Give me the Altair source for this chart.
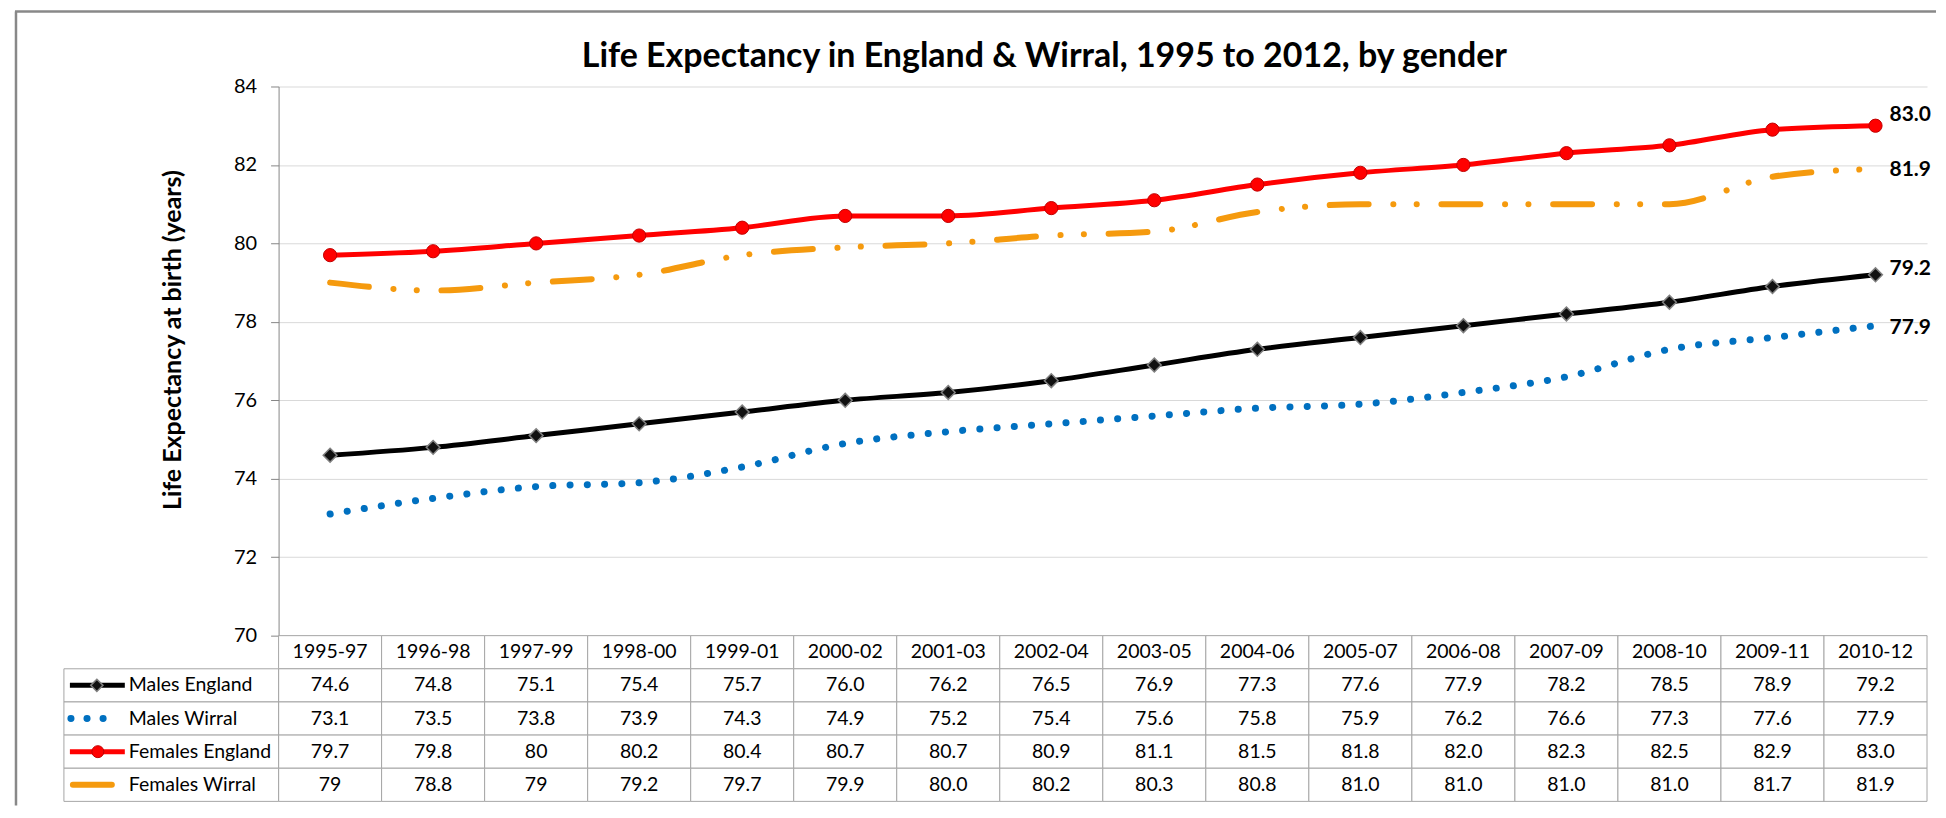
import altair as alt
import pandas as pd

# ---------------- data ----------------
periods = ["1995-97", "1996-98", "1997-99", "1998-00", "1999-01", "2000-02", "2001-03", "2002-04",
           "2003-05", "2004-06", "2005-07", "2006-08", "2007-09", "2008-10", "2009-11", "2010-12"]
series_names = ["Males England", "Males Wirral", "Females England", "Females Wirral"]
males_england = ["74.6", "74.8", "75.1", "75.4", "75.7", "76.0", "76.2", "76.5",
                 "76.9", "77.3", "77.6", "77.9", "78.2", "78.5", "78.9", "79.2"]
males_wirral = ["73.1", "73.5", "73.8", "73.9", "74.3", "74.9", "75.2", "75.4",
                "75.6", "75.8", "75.9", "76.2", "76.6", "77.3", "77.6", "77.9"]
females_england = ["79.7", "79.8", "80", "80.2", "80.4", "80.7", "80.7", "80.9",
                   "81.1", "81.5", "81.8", "82.0", "82.3", "82.5", "82.9", "83.0"]
females_wirral = ["79", "78.8", "79", "79.2", "79.7", "79.9", "80.0", "80.2",
                  "80.3", "80.8", "81.0", "81.0", "81.0", "81.0", "81.7", "81.9"]
y_ticks = [70, 72, 74, 76, 78, 80, 82, 84]
chart_title = "Life Expectancy in England & Wirral, 1995 to 2012, by gender"
y_title = "Life Expectancy at birth (years)"
header_key = "Period"

all_values = [males_england, males_wirral, females_england, females_wirral]

records = []
for name, vals in zip(series_names, all_values):
    for p, v in zip(periods, vals):
        records.append({"period": p, "series": name, "label": v, "value": float(v)})
df = pd.DataFrame(records)

cells = [{"period": p, "row": header_key, "label": p} for p in periods]
cells += [{"period": r["period"], "row": r["series"], "label": r["label"]} for r in records]
cells_df = pd.DataFrame(cells)
rows_df = pd.DataFrame({"row": series_names})
one = pd.DataFrame({"t": [chart_title], "yt": [y_title]})

# ---------------- geometry / style ----------------
W = 1651
PLOT_H = 550
H = 716
FONT = "Lato"
ROWS = [header_key] + series_names

X_POINT = alt.Scale(type="point", domain=periods, range=[0, W], padding=0.5)
X_BAND = alt.Scale(type="band", domain=periods, range=[0, W], paddingInner=0, paddingOuter=0)
Y_VAL = alt.Scale(domain=[70, 84], range=[PLOT_H, 0], zero=False, nice=False)
Y_BAND = alt.Scale(type="band", domain=ROWS, range=[PLOT_H, H], paddingInner=0, paddingOuter=0)
Y_ROWPT = alt.Scale(type="point", domain=ROWS, range=[PLOT_H, H], padding=0.5)

line_style = {
    "Males England": dict(color="#000000", strokeWidth=5),
    "Males Wirral": dict(color="#0070C0", strokeWidth=7, strokeDash=[0.1, 17.2], strokeCap="round"),
    "Females England": dict(color="#FF0000", strokeWidth=5),
    "Females Wirral": dict(color="#F59A0E", strokeWidth=6,
                           strokeDash=[39, 24.7, 0.1, 23.3, 0.1, 24.7], strokeCap="round"),
}
end_label_dy = {"Males England": -6, "Males Wirral": 2, "Females England": -11, "Females Wirral": 1}

layers = []

# chart-area border (left and top edges)
layers.append(alt.Chart(one).mark_rule(color="#888888", strokeWidth=2.5).encode(
    x=alt.value(-264), x2=alt.value(1660), y=alt.value(-75)))
layers.append(alt.Chart(one).mark_rule(color="#888888", strokeWidth=2.5).encode(
    x=alt.value(-263), y=alt.value(-75), y2=alt.value(720)))

# titles
layers.append(alt.Chart(one).mark_text(font=FONT, fontSize=34, fontWeight="bold", color="#000000",
                                       align="center", baseline="alphabetic").encode(
    x=alt.value(767), y=alt.value(-20), text="t:N"))
layers.append(alt.Chart(one).mark_text(font=FONT, fontSize=25, fontWeight="bold", color="#000000",
                                       align="center", baseline="middle", angle=270).encode(
    x=alt.value(-106), y=alt.value(254), text="yt:N"))

# table cells
layers.append(alt.Chart(cells_df).mark_rect(fill="white", stroke="#A6A6A6", strokeWidth=1).encode(
    x=alt.X("period:N", scale=X_BAND, axis=None),
    y=alt.Y("row:N", scale=Y_BAND, axis=None)))
layers.append(alt.Chart(rows_df).mark_rect(fill="white", stroke="#A6A6A6", strokeWidth=1).encode(
    x=alt.value(-215), x2=alt.value(0),
    y=alt.Y("row:N", scale=Y_BAND, axis=None)))
layers.append(alt.Chart(cells_df).mark_text(font=FONT, fontSize=19.5, color="#000000",
                                            align="center", baseline="middle").encode(
    x=alt.X("period:N", scale=X_POINT, axis=None),
    y=alt.Y("row:N", scale=Y_ROWPT, axis=None),
    text="label:N"))
layers.append(alt.Chart(rows_df).mark_text(font=FONT, fontSize=19.5, color="#000000",
                                           align="left", baseline="middle").encode(
    x=alt.value(-150),
    y=alt.Y("row:N", scale=Y_ROWPT, axis=None),
    text="row:N"))

# legend keys in table
key_span = {"Males England": (-209, -154), "Males Wirral": (-208, -159.9),
            "Females England": (-209, -154), "Females Wirral": (-206, -167)}
for name in series_names:
    st = dict(line_style[name])
    if name == "Males Wirral":
        st["strokeDash"] = [0.1, 16]
    x0, x1 = key_span[name]
    layers.append(alt.Chart(rows_df[rows_df.row == name]).mark_rule(**st).encode(
        x=alt.value(x0), x2=alt.value(x1),
        y=alt.Y("row:N", scale=Y_ROWPT, axis=None)))
layers.append(alt.Chart(rows_df[rows_df.row == "Males England"]).mark_point(
    shape="diamond", filled=True, size=150, fill="#111111", stroke="#808080", strokeWidth=1.5, opacity=1).encode(
    x=alt.value(-182), y=alt.Y("row:N", scale=Y_ROWPT, axis=None)))
layers.append(alt.Chart(rows_df[rows_df.row == "Females England"]).mark_point(
    shape="circle", filled=True, size=144, fill="#FF0000", stroke="#C00000", strokeWidth=1, opacity=1).encode(
    x=alt.value(-181), y=alt.Y("row:N", scale=Y_ROWPT, axis=None)))

# lines
for i, name in enumerate(series_names):
    axis = None
    if i == 0:
        axis = alt.Axis(values=y_ticks, grid=True, gridColor="#D9D9D9", gridWidth=1,
                        domainColor="#868686", domainWidth=1, tickColor="#868686", tickSize=8,
                        labelFont=FONT, labelFontSize=20, labelColor="#000000", labelPadding=14,
                        title=None)
    layers.append(alt.Chart(df[df.series == name]).mark_line(
        interpolate="monotone", strokeJoin="round", **line_style[name]).encode(
        x=alt.X("period:N", scale=X_POINT, axis=None),
        y=alt.Y("value:Q", scale=Y_VAL, axis=axis)))

# markers
layers.append(alt.Chart(df[df.series == "Males England"]).mark_point(
    shape="diamond", filled=True, size=190, fill="#111111", stroke="#808080", strokeWidth=1.5, opacity=1).encode(
    x=alt.X("period:N", scale=X_POINT, axis=None),
    y=alt.Y("value:Q", scale=Y_VAL, axis=None)))
layers.append(alt.Chart(df[df.series == "Females England"]).mark_point(
    shape="circle", filled=True, size=175, fill="#FF0000", stroke="#C00000", strokeWidth=1, opacity=1).encode(
    x=alt.X("period:N", scale=X_POINT, axis=None),
    y=alt.Y("value:Q", scale=Y_VAL, axis=None)))

# end labels
last = periods[-1]
for name in series_names:
    layers.append(alt.Chart(df[(df.series == name) & (df.period == last)]).mark_text(
        font=FONT, fontSize=21, fontWeight="bold", color="#000000", align="left", baseline="middle",
        dx=14, dy=end_label_dy[name]).encode(
        x=alt.X("period:N", scale=X_POINT, axis=None),
        y=alt.Y("value:Q", scale=Y_VAL, axis=None),
        text="label:N"))

chart = alt.layer(*layers).resolve_scale(x="independent", y="independent").properties(
    width=W, height=H,
    padding={"left": 5, "top": 1, "right": 0, "bottom": 0},
    background="white",
).configure_view(stroke=None)

chart.save("out.html", embed_options={"renderer": "svg", "actions": False})
